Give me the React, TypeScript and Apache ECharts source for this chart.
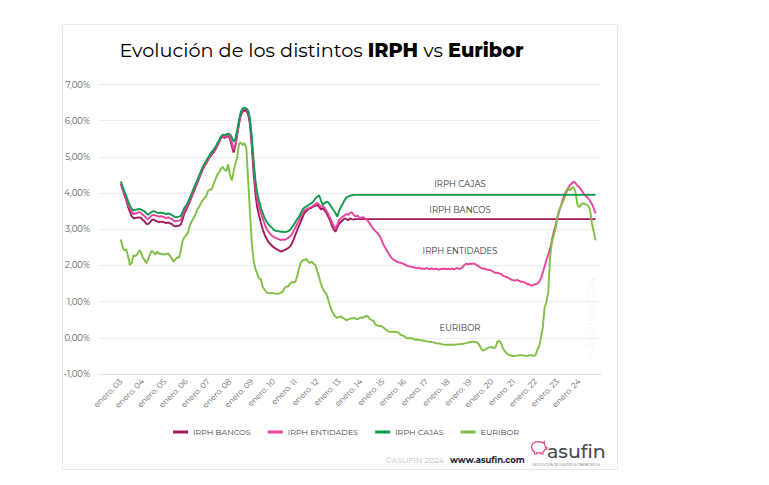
import React, { useEffect, useRef } from "react";
import * as echarts from "echarts";

// Monthly values, Jan 2003 .. Oct 2024 (index 0 = enero 2003)
const euribor = [
  2.716, 2.505, 2.411, 2.447, 2.252, 2.014, 2.076, 2.279, 2.258, 2.303, 2.41, 2.38,
  2.216, 2.163, 2.055, 2.163, 2.305, 2.399, 2.361, 2.299, 2.382, 2.318, 2.33, 2.301,
  2.312, 2.31, 2.335, 2.265, 2.193, 2.103, 2.168, 2.223, 2.22, 2.414, 2.684, 2.783,
  2.833, 2.914, 3.105, 3.221, 3.308, 3.401, 3.539, 3.615, 3.715, 3.799, 3.86, 3.921,
  4.064, 4.094, 4.106, 4.253, 4.373, 4.505, 4.564, 4.666, 4.725, 4.647, 4.607, 4.793,
  4.498, 4.349, 4.59, 4.82, 4.994, 5.361, 5.393, 5.323, 5.384, 5.248, 4.35, 3.452,
  2.622, 2.135, 1.909, 1.771, 1.644, 1.61, 1.412, 1.334, 1.261, 1.243, 1.231, 1.242,
  1.232, 1.225, 1.215, 1.225, 1.249, 1.281, 1.373, 1.421, 1.42, 1.495, 1.541, 1.526,
  1.55, 1.714, 1.924, 2.086, 2.147, 2.144, 2.183, 2.097, 2.067, 2.11, 2.044, 2.004,
  1.837, 1.678, 1.499, 1.368, 1.266, 1.219, 1.061, 0.877, 0.74, 0.65, 0.588, 0.549,
  0.575, 0.594, 0.545, 0.528, 0.484, 0.507, 0.525, 0.542, 0.543, 0.541, 0.506, 0.543,
  0.562, 0.549, 0.577, 0.604, 0.592, 0.513, 0.488, 0.469, 0.362, 0.338, 0.335, 0.329,
  0.298, 0.255, 0.212, 0.18, 0.165, 0.163, 0.167, 0.161, 0.154, 0.128, 0.079, 0.059,
  0.042, -0.008, -0.012, -0.01, -0.013, -0.028, -0.056, -0.048, -0.057, -0.069, -0.074, -0.08,
  -0.095, -0.106, -0.11, -0.119, -0.127, -0.149, -0.154, -0.156, -0.168, -0.18, -0.189, -0.19,
  -0.189, -0.191, -0.191, -0.19, -0.188, -0.181, -0.18, -0.169, -0.166, -0.154, -0.147, -0.129,
  -0.116, -0.108, -0.109, -0.112, -0.134, -0.19, -0.283, -0.356, -0.339, -0.304, -0.272, -0.261,
  -0.253, -0.288, -0.266, -0.108, -0.081, -0.147, -0.279, -0.359, -0.415, -0.466, -0.481, -0.497,
  -0.505, -0.501, -0.487, -0.484, -0.481, -0.484, -0.491, -0.498, -0.492, -0.477, -0.487, -0.502,
  -0.477, -0.335, -0.237, 0.013, 0.287, 0.852, 0.992, 1.249, 2.233, 2.629, 2.828, 3.018,
  3.337, 3.534, 3.647, 3.757, 3.862, 4.007, 4.149, 4.073, 4.149, 4.16, 4.022, 3.679,
  3.609, 3.671, 3.718, 3.703, 3.68, 3.65, 3.526, 3.166, 2.936, 2.691,
];

const irphEntidades = [
  4.26, 4.12, 4.0, 3.85, 3.7, 3.58, 3.48, 3.42, 3.44, 3.45, 3.47, 3.46,
  3.4, 3.37, 3.3, 3.28, 3.33, 3.38, 3.4, 3.38, 3.37, 3.35, 3.36, 3.35,
  3.33, 3.31, 3.33, 3.3, 3.29, 3.24, 3.22, 3.23, 3.24, 3.26, 3.38, 3.52,
  3.6, 3.7, 3.82, 3.94, 4.06, 4.19, 4.31, 4.43, 4.56, 4.68, 4.78, 4.85,
  4.94, 5.03, 5.1, 5.15, 5.22, 5.33, 5.42, 5.53, 5.58, 5.55, 5.58, 5.6,
  5.55, 5.4, 5.2, 5.35, 5.65, 5.95, 6.2, 6.3, 6.33, 6.32, 6.25, 6.0,
  5.45, 4.75, 4.2, 3.85, 3.62, 3.45, 3.3, 3.15, 3.03, 2.95, 2.88, 2.83,
  2.79, 2.76, 2.74, 2.72, 2.7, 2.72, 2.71, 2.73, 2.76, 2.8, 2.86, 2.95,
  3.05, 3.15, 3.25, 3.35, 3.45, 3.52, 3.55, 3.58, 3.6, 3.63, 3.66, 3.7,
  3.73, 3.68, 3.62, 3.64, 3.6, 3.52, 3.42, 3.32, 3.2, 3.1, 3.02, 3.12,
  3.25, 3.3, 3.35, 3.38, 3.42, 3.4, 3.45, 3.47, 3.4, 3.35, 3.38, 3.33,
  3.3, 3.34, 3.31, 3.28, 3.22, 3.15, 3.07, 3.0, 2.95, 2.9, 2.84, 2.75,
  2.62, 2.52, 2.43, 2.35, 2.27, 2.2, 2.16, 2.13, 2.1, 2.08, 2.07, 2.05,
  2.03, 2.0, 1.98, 1.97, 1.96, 1.95, 1.93, 1.92, 1.94, 1.91, 1.92, 1.9,
  1.93, 1.91, 1.9, 1.92, 1.89, 1.91, 1.9, 1.88, 1.91, 1.9, 1.92, 1.89,
  1.91, 1.9, 1.92, 1.89, 1.91, 1.93, 1.9, 1.92, 1.96, 2.02, 2.05, 2.03,
  2.05, 2.04, 2.06, 2.03, 2.0, 1.97, 1.93, 1.91, 1.92, 1.89, 1.88, 1.87,
  1.85, 1.82, 1.79, 1.8, 1.78, 1.77, 1.72, 1.7, 1.68, 1.66, 1.63, 1.6,
  1.59, 1.58, 1.6, 1.57, 1.55, 1.55, 1.53, 1.5, 1.48, 1.46, 1.44, 1.47,
  1.48, 1.5, 1.55, 1.65, 1.8, 1.98, 2.15, 2.3, 2.45, 2.7, 2.93, 3.1,
  3.3, 3.5, 3.65, 3.82, 3.97, 4.06, 4.15, 4.22, 4.27, 4.31, 4.28, 4.2,
  4.17, 4.1, 4.02, 3.95, 3.9, 3.85, 3.78, 3.7, 3.58, 3.44,
];

// published until Oct 2013, then frozen at the last value
const irphCajas = [
  4.32, 4.18, 4.05, 3.92, 3.78, 3.66, 3.56, 3.52, 3.54, 3.55, 3.56, 3.55,
  3.52, 3.5, 3.44, 3.4, 3.44, 3.48, 3.5, 3.48, 3.46, 3.45, 3.46, 3.45,
  3.44, 3.42, 3.44, 3.42, 3.4, 3.36, 3.33, 3.34, 3.35, 3.37, 3.48, 3.6,
  3.66, 3.76, 3.88, 4.0, 4.12, 4.24, 4.36, 4.48, 4.6, 4.72, 4.82, 4.9,
  4.98, 5.07, 5.14, 5.2, 5.27, 5.37, 5.46, 5.56, 5.61, 5.6, 5.62, 5.64,
  5.62, 5.55, 5.42, 5.5, 5.75, 6.02, 6.25, 6.34, 6.35, 6.34, 6.28, 6.05,
  5.55, 4.9, 4.35, 4.0, 3.78, 3.6, 3.45, 3.32, 3.22, 3.15, 3.09, 3.05,
  2.98, 2.96, 2.95, 2.94, 2.93, 2.93, 2.92, 2.93, 2.95, 2.98, 3.05, 3.12,
  3.2, 3.28, 3.35, 3.45, 3.55, 3.6, 3.63, 3.66, 3.7, 3.72, 3.78, 3.85,
  3.9, 3.94, 3.8, 3.67, 3.72, 3.76, 3.74, 3.68, 3.6, 3.52, 3.45, 3.35,
  3.5, 3.62, 3.7, 3.8, 3.88, 3.9, 3.93, 3.94, 3.95, 3.95,
];

const irphBancos = [
  4.25, 4.1, 3.95, 3.8, 3.62, 3.48, 3.36, 3.3, 3.31, 3.32, 3.33, 3.32,
  3.26, 3.22, 3.15, 3.14, 3.19, 3.25, 3.27, 3.24, 3.22, 3.2, 3.21, 3.2,
  3.19, 3.17, 3.19, 3.16, 3.15, 3.1, 3.08, 3.09, 3.1, 3.13, 3.28, 3.45,
  3.54, 3.65, 3.77, 3.9, 4.02, 4.15, 4.27, 4.4, 4.53, 4.65, 4.75, 4.82,
  4.92, 5.0, 5.07, 5.12, 5.2, 5.3, 5.4, 5.51, 5.56, 5.52, 5.55, 5.58,
  5.5, 5.3, 5.12, 5.3, 5.62, 5.92, 6.15, 6.25, 6.28, 6.27, 6.18, 5.9,
  5.3, 4.55, 3.98, 3.6, 3.38, 3.18, 3.0, 2.86, 2.75, 2.66, 2.6, 2.55,
  2.5, 2.47, 2.44, 2.41, 2.38, 2.4, 2.42, 2.45, 2.48, 2.52, 2.6, 2.72,
  2.85, 2.98, 3.1, 3.22, 3.34, 3.45, 3.5, 3.55, 3.58, 3.6, 3.63, 3.65,
  3.67, 3.62, 3.55, 3.58, 3.52, 3.45, 3.35, 3.25, 3.1, 3.0, 2.93, 3.05,
  3.15, 3.2, 3.25, 3.3, 3.28, 3.25, 3.3, 3.28, 3.27, 3.28,
];

const xTickLabels = [
  "enero. 03", "enero. 04", "enero. 05", "enero. 06", "enero. 07", "enero. 08",
  "enero. 09", "enero. 10", "enero. 11", "enero. 12", "enero. 13", "enero. 14",
  "enero. 15", "enero. 16", "enero. 17", "enero. 18", "enero. 19", "enero. 20",
  "enero. 21", "enero. 22", "enero. 23", "enero. 24",
];

const seriesNames = ["IRPH BANCOS", "IRPH ENTIDADES", "IRPH CAJAS", "EURIBOR"];
const seriesColors = ["#a01a5c", "#e8449b", "#0f9a4c", "#7fbf45"];

const FONT = "Montserrat, 'Noto Sans', sans-serif";

const pigPath =
  "M3 8 C3 4 7 2 11 2 C13 2 15 2.5 16 3.5 L18 2 L18 5.5 C19 6.5 19.5 7.5 19.5 8.5 L21 8.5 L21 11 L19 11 C18.5 12.5 17.5 13.5 16.5 14 L16.5 16.5 L14 16.5 L14 15 C12.5 15.3 10.5 15.3 9 15 L9 16.5 L6.5 16.5 L6.5 14 C4.5 13 3 11 3 8 Z";

let registered = false;

export default function App() {
  const ref = useRef<HTMLDivElement>(null);

  useEffect(() => {
    if (!ref.current) return;
    if (!registered) {
      echarts.graphic.registerShape("pig", echarts.graphic.extendPath(pigPath, {}) as any);
      registered = true;
    }
    const chart = echarts.init(ref.current, undefined, { renderer: "svg" });
    const lastIndex = euribor.length - 1;
    const toPairs = (arr: number[]) => arr.map((v, i) => [i, v]);
    const frozen = (arr: number[]) => [...toPairs(arr), [lastIndex, arr[arr.length - 1]]];

    const seriesData = [
      frozen(irphBancos),
      toPairs(irphEntidades),
      frozen(irphCajas),
      toPairs(euribor),
    ];

    const option: any = {
      animation: false,
      backgroundColor: "#ffffff",
      textStyle: { fontFamily: FONT },
      grid: { left: 99, right: 168, top: 84.5, bottom: 111, containLabel: false },
      legend: {
        data: seriesNames,
        left: 168,
        top: 423,
        icon: "rect",
        itemWidth: 15,
        itemHeight: 3,
        itemGap: 17,
        textStyle: { color: "#444", fontSize: 8, fontFamily: FONT },
      },
      xAxis: {
        type: "value",
        min: -12,
        max: 264,
        interval: 12,
        axisLine: { onZero: false, lineStyle: { color: "#e2e2e2", width: 1 } },
        axisTick: { show: false },
        splitLine: { show: false },
        axisLabel: {
          rotate: 45,
          margin: 6,
          color: "#666",
          fontSize: 8,
          fontFamily: FONT,
          formatter: (v: number) => (v >= 0 && v % 12 === 0 ? xTickLabels[v / 12] ?? "" : ""),
        },
      },
      yAxis: {
        type: "value",
        min: -1,
        max: 7,
        interval: 1,
        axisLine: { show: false },
        axisTick: { show: false },
        splitLine: { lineStyle: { color: "#ededed", width: 1 } },
        axisLabel: {
          margin: 9,
          color: "#555",
          fontSize: 8.5,
          fontFamily: FONT,
          formatter: (v: number) => v.toFixed(2).replace(".", ",") + "%",
        },
      },
      series: seriesNames.map((name, i) => ({
        name,
        type: "line",
        data: seriesData[i],
        showSymbol: false,
        symbol: "none",
        color: seriesColors[i],
        lineStyle: { color: seriesColors[i], width: 1.9 },
        z: i === 2 ? 4 : 3,
      })),
      graphic: [
        {
          type: "rect",
          silent: true,
          z: -10,
          shape: { x: 62.5, y: 24.5, width: 555, height: 445 },
          style: { fill: "#fff", stroke: "#e8e8e8", lineWidth: 1 },
        },
        {
          type: "text",
          x: 321.5,
          y: 50,
          style: {
            text: "{n|Evolución de los distintos }{b|IRPH}{n| vs }{b|Euribor}",
            align: "center",
            verticalAlign: "middle",
            rich: {
              n: { fontSize: 19.3, fontFamily: FONT, color: "#1a1a1a", fontWeight: 400 },
              b: { fontSize: 19.3, fontFamily: FONT, color: "#111", fontWeight: 800 },
            },
          },
        },
        {
          type: "text",
          x: 460,
          y: 184,
          style: { text: "IRPH CAJAS", align: "center", verticalAlign: "middle", fontSize: 8.5, fontFamily: FONT, fill: "#333" },
        },
        {
          type: "text",
          x: 460,
          y: 210,
          style: { text: "IRPH BANCOS", align: "center", verticalAlign: "middle", fontSize: 8.5, fontFamily: FONT, fill: "#333" },
        },
        {
          type: "text",
          x: 460,
          y: 251,
          style: { text: "IRPH ENTIDADES", align: "center", verticalAlign: "middle", fontSize: 8.5, fontFamily: FONT, fill: "#333" },
        },
        {
          type: "text",
          x: 460,
          y: 328,
          style: { text: "EURIBOR", align: "center", verticalAlign: "middle", fontSize: 8.5, fontFamily: FONT, fill: "#333" },
        },
        {
          type: "text",
          x: 591,
          y: 318,
          rotation: Math.PI / 2,
          style: { text: "©ASUFIN 2024", align: "center", verticalAlign: "middle", fontSize: 11, fontFamily: FONT, fill: "rgba(0,0,0,0.07)" },
        },
        {
          type: "text",
          x: 444,
          y: 460,
          style: { text: "©ASUFIN 2024", align: "right", verticalAlign: "middle", fontSize: 8, fontFamily: FONT, fill: "#bdbdbd" },
        },
        {
          type: "text",
          x: 450,
          y: 460,
          style: { text: "www.asufin.com", align: "left", verticalAlign: "middle", fontSize: 8.5, fontWeight: 700, fontFamily: FONT, fill: "#222" },
        },
        {
          type: "pig",
          x: 529,
          y: 440,
          scaleX: 0.85,
          scaleY: 0.85,
          style: { fill: "none", stroke: "#e8437f", lineWidth: 1.4 },
        },
        {
          type: "text",
          x: 547,
          y: 451,
          style: { text: "asufin", align: "left", verticalAlign: "middle", fontSize: 19, fontWeight: 500, fontFamily: FONT, fill: "#4a4a4a" },
        },
        {
          type: "text",
          x: 566,
          y: 465,
          style: { text: "ASOCIACIÓN DE USUARIOS FINANCIEROS", align: "center", verticalAlign: "middle", fontSize: 3.2, fontFamily: FONT, fill: "#666" },
        },
      ],
    };

    chart.setOption(option);
    return () => chart.dispose();
  }, []);

  return (
    <div
      ref={ref}
      style={{ position: "absolute", left: 0, top: 0, width: 769, height: 485, background: "#fff" }}
    />
  );
}
